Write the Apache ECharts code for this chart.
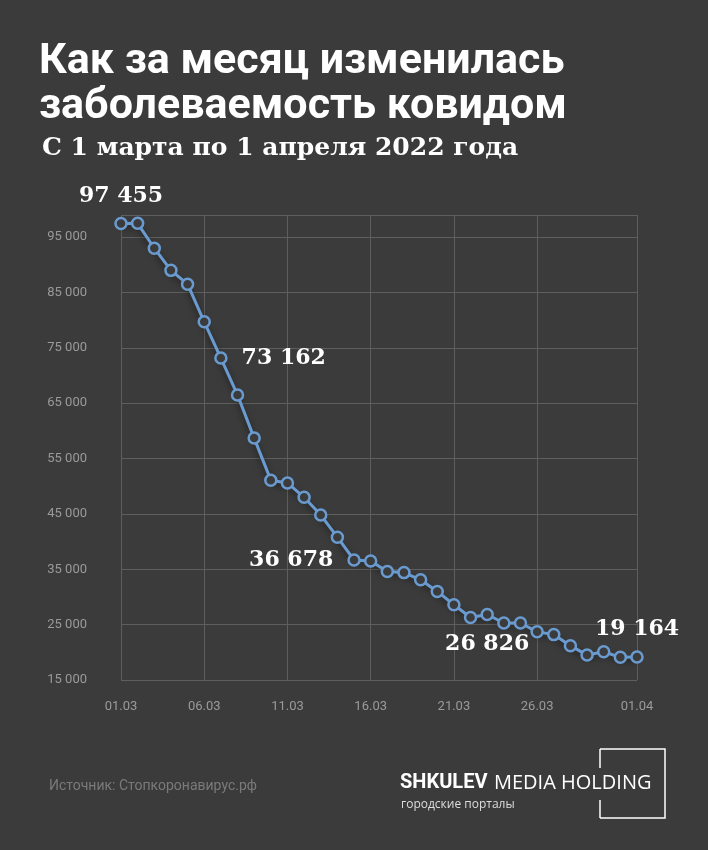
<!DOCTYPE html>
<html><head><meta charset="utf-8">
<script src="https://cdn.jsdelivr.net/npm/echarts@6/dist/echarts.min.js"></script>
<style>html,body{margin:0;background:#3b3b3b}#c{width:708px;height:850px}</style>
</head><body><div id="c"></div>
<script>
const dates = ["01.03","02.03","03.03","04.03","05.03","06.03","07.03","08.03","09.03","10.03","11.03","12.03","13.03","14.03","15.03","16.03","17.03","18.03","19.03","20.03","21.03","22.03","23.03","24.03","25.03","26.03","27.03","28.03","29.03","30.03","31.03","01.04"];
const cases = [97455,97500,93000,89000,86500,79700,73162,66500,58700,51100,50600,48000,44800,40800,36678,36500,34600,34400,33100,31000,28600,26300,26826,25300,25300,23700,23200,21200,19500,20100,19100,19164];
const shownTicks = [0,5,10,15,20,25,31];
const labelled = {0:'top',6:'right',14:'left',22:'bottom',31:'top'};
const fmt = v => String(v).replace(/\B(?=(\d{3})+(?!\d))/g,' ');
const chart = echarts.init(document.getElementById('c'));
chart.setOption({
  backgroundColor:'#3b3b3b',
  title:[
    {text:'Как за месяц изменилась\nзаболеваемость ковидом',left:34,top:35,textStyle:{color:'#fff',fontFamily:'Roboto',fontWeight:'bold',fontSize:43,lineHeight:45}},
    {text:'С 1 марта по 1 апреля 2022 года',left:37,top:131,textStyle:{color:'#fff',fontFamily:'DejaVu Serif',fontWeight:'bold',fontSize:25}},
    {text:'Источник: Стопкоронавирус.рф',left:44,top:774,textStyle:{color:'#7a7a7a',fontFamily:'Roboto',fontWeight:'normal',fontSize:14}}
  ],
  graphic:[
    {type:'text',left:400,top:773,style:{text:'SHKULEV',fill:'#fff',font:'bold 20px Roboto'}},
    {type:'text',left:494,top:773,style:{text:'MEDIA HOLDING',fill:'#fff',font:'20px "Open Sans"'}},
    {type:'text',left:401,top:799,style:{text:'городские порталы',fill:'#ddd',font:'12px "Open Sans"'}},
    {type:'polyline',shape:{points:[[600,749],[665,749],[665,818],[600,818]]},style:{stroke:'#fff',lineWidth:1.5,fill:null}},
    {type:'line',shape:{x1:600,y1:749,x2:600,y2:768},style:{stroke:'#fff',lineWidth:1.5}},
    {type:'line',shape:{x1:600,y1:800,x2:600,y2:818},style:{stroke:'#fff',lineWidth:1.5}}
  ],
  grid:{left:121,right:71,top:215,bottom:170},
  xAxis:{type:'category',data:dates,boundaryGap:false,
    axisLine:{show:false},axisTick:{show:false},
    axisLabel:{interval:(i)=>shownTicks.includes(i),color:'#9a9a9a',fontFamily:'Roboto',fontSize:13,margin:20},
    splitLine:{show:true,interval:(i)=>shownTicks.includes(i),lineStyle:{color:'#5e5e5e',width:1}}},
  yAxis:{type:'value',min:15000,max:99000,interval:10000,
    axisLine:{show:false},axisTick:{show:false},
    axisLabel:{color:'#9a9a9a',fontFamily:'Roboto',fontSize:13,margin:34,formatter:v=>v>95000?'':fmt(v)},
    splitLine:{lineStyle:{color:'#5e5e5e',width:1}}},
  series:[{type:'line',data:cases.map((v,i)=>{
      const p=labelled[i];
      return p?{value:v,label:{show:true,position:p,distance:p==='top'?10:(p==='bottom'?12:14),formatter:fmt(v)}}:v;}),
    symbol:'circle',symbolSize:11,showSymbol:true,showAllSymbol:true,
    itemStyle:{color:'#3b3b3b',borderColor:'#6a9bd0',borderWidth:2.5},
    lineStyle:{color:'#6a9bd0',width:3,shadowColor:'rgba(0,0,0,0.5)',shadowBlur:6,shadowOffsetY:3},
    label:{color:'#fff',fontFamily:'DejaVu Serif',fontSize:22,fontWeight:'bold'},
    labelLayout:{hideOverlap:false},
    animation:false}]
});
</script></body></html>
